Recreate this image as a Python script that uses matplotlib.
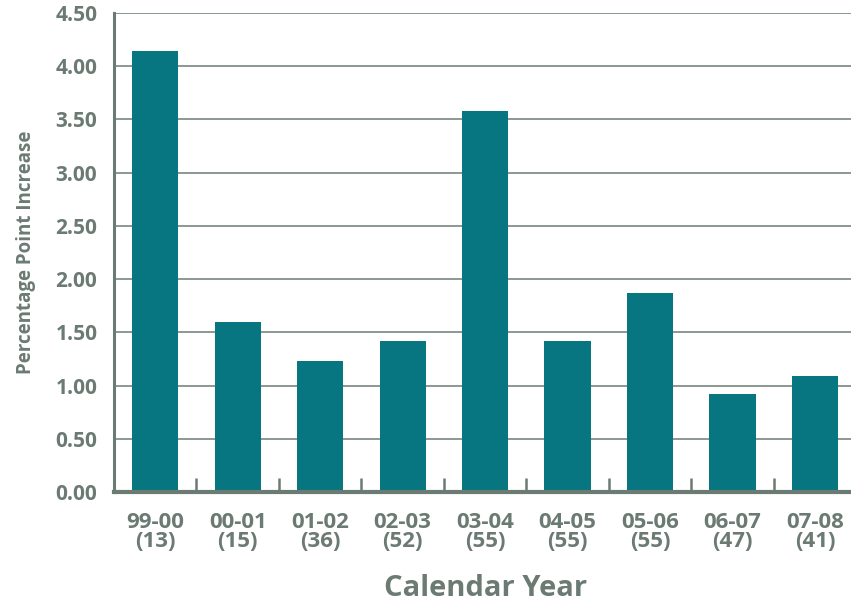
import matplotlib
matplotlib.use('Agg')
import matplotlib.pyplot as plt

years = ['99-00', '00-01', '01-02', '02-03', '03-04', '04-05', '05-06', '06-07', '07-08']
counts = [13, 15, 36, 52, 55, 55, 55, 47, 41]
increase = [4.14, 1.60, 1.23, 1.42, 3.58, 1.42, 1.87, 0.92, 1.09]

plt.rcParams['font.family'] = ['Open Sans', 'DejaVu Sans']
grey = '#6b7a72'
teal = '#077680'

fig = plt.figure(figsize=(8.51, 6.06), dpi=100)
ax = fig.add_axes([0.134, 0.188, 0.872, 0.7905])

x = list(range(len(years)))
ax.bar(x, increase, width=0.56, color=teal, zorder=3)

ax.set_xlim(-0.5, 8.5)
ax.set_ylim(0, 4.5)
yt = [i * 0.5 for i in range(10)]
ax.set_yticks(yt)
ax.set_yticklabels(['%.2f' % v for v in yt], fontsize=15, fontweight='bold', color=grey)
ax.yaxis.grid(True, color='#8d9893', lw=1.4, zorder=1)
ax.tick_params(axis='y', length=0, pad=12)

ax.set_xticks(x)
ax.set_xticklabels(['%s\n(%d)' % (y, c) for y, c in zip(years, counts)],
                   fontsize=16, fontweight='bold', color=grey, linespacing=0.9)
ax.tick_params(axis='x', which='major', length=0, pad=14)
ax.set_xticks([i + 0.5 for i in range(8)], minor=True)
ax.tick_params(axis='x', which='minor', direction='in', length=10, width=1.8, color=grey)

for s in ['top', 'right']:
    ax.spines[s].set_visible(False)
ax.spines['left'].set_color(grey)
ax.spines['left'].set_linewidth(2.2)
ax.spines['bottom'].set_color(grey)
ax.spines['bottom'].set_linewidth(3)
ax.spines['bottom'].set_zorder(4)

ax.set_xlabel('Calendar Year', fontsize=21, fontweight='bold', color=grey, labelpad=16)
ax.set_ylabel('Percentage Point Increase', fontsize=13.5, fontweight='bold', color=grey, labelpad=14)

fig.savefig('out.png', dpi=100)
